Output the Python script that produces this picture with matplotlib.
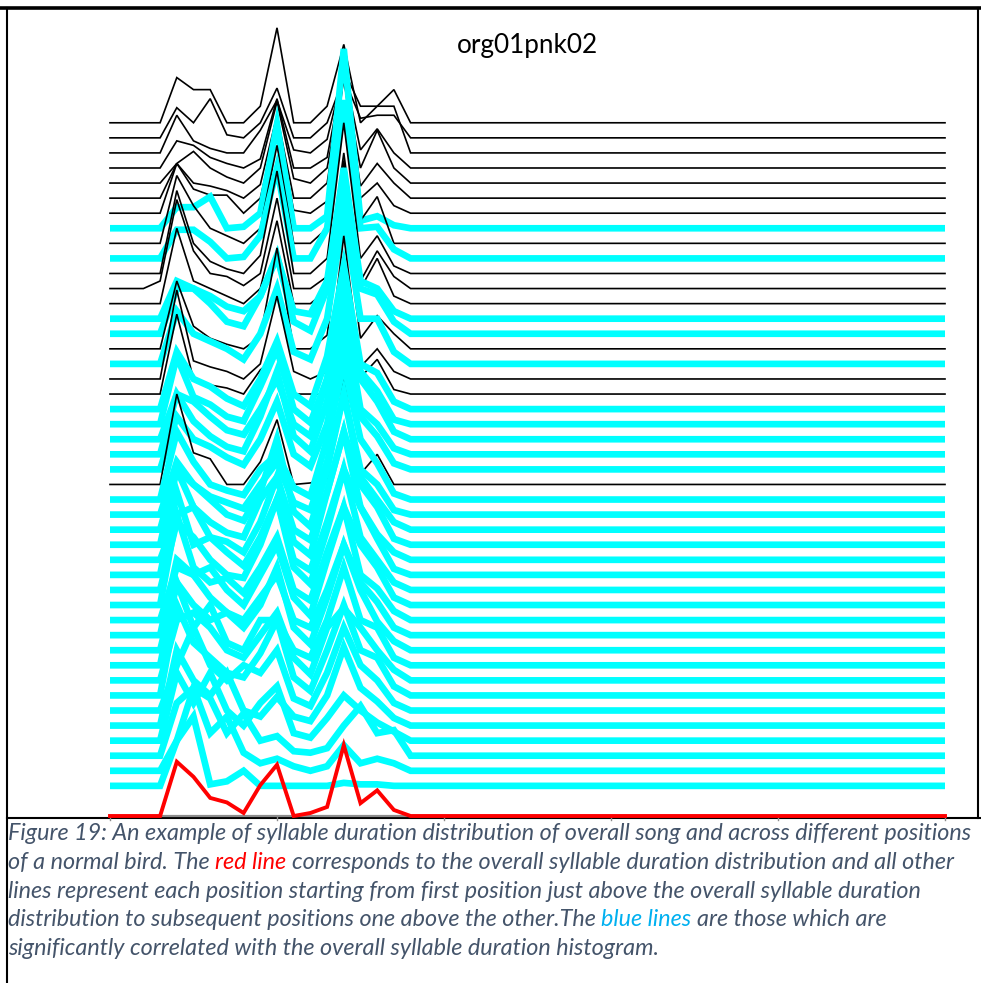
import numpy as np
import matplotlib
matplotlib.use("Agg")
import matplotlib.pyplot as plt

# =============================================================================
# data (histogram values, in units of the row spacing)
# =============================================================================

bin_first = 2          # first bin listed in the rows below
n_bins = 51            # bins 0..50 on the x axis

# overall syllable duration distribution (red), bins 2..18
overall_hist = [0, 0, 3.6, 2.6, 1.2, 0.9, 0.2, 2.05, 3.4, 0, 0.2, 0.6, 4.7, 0.85, 1.7, 0.4, 0]

# per-position distributions, position 1 (bottom) .. position 45 (top), bins 2..18
pos_hist = [
    [0, 0, 3.0, 4.6, 0.1, 0.3, 1.0, 0, 0, 0, 0, 0, 0.2, 0.1, 0.1, 0, 0],
    [0, 0, 2.0, 5.5, 2.5, 3.6, 1.2, 0.5, 0.8, 0.3, 0, 0.3, 1.7, 0.5, 0.8, 0.5, 0],
    [0, 0, 3.5, 4.5, 3.8, 1.5, 2.8, 1.0, 1.3, 0.3, 0.2, 0.5, 2.0, 3.3, 1.5, 1.7, 0],
    [0, 0, 4.5, 2.5, 4.5, 2.0, 1.0, 2.5, 3.6, 0.5, 0.2, 1.5, 3.0, 2.0, 1.2, 0.6, 0],
    [0, 0, 5.0, 3.0, 2.0, 3.5, 1.0, 0.6, 1.9, 0.6, 0.3, 2.0, 5.2, 2.5, 1.6, 0.5, 0],
    [0, 0, 3.0, 5.5, 3.0, 2.0, 3.0, 2.5, 4.0, 0.8, 0.3, 2.5, 5.5, 3.0, 2.0, 0.5, 0],
    [0, 0, 6.0, 3.5, 2.5, 1.5, 1.2, 2.8, 5.0, 1.2, 0.3, 3.0, 6.0, 3.0, 2.5, 0.6, 0],
    [0, 0, 4.0, 4.5, 3.5, 2.0, 1.5, 3.0, 4.5, 1.5, 0.4, 3.5, 4.8, 3.5, 2.0, 0.7, 0],
    [0, 0, 5.5, 2.5, 4.0, 1.5, 1.0, 3.0, 3.0, 1.0, 0.5, 3.0, 6.5, 3.0, 2.5, 0.5, 0],
    [0, 0, 4.5, 3.0, 2.0, 2.5, 1.5, 3.0, 5.5, 1.5, 0.4, 3.5, 7.0, 4.0, 1.9, 0.6, 0],
    [0, 0, 5.0, 4.0, 2.5, 1.5, 1.0, 2.5, 4.0, 1.0, 0.5, 3.0, 6.0, 3.5, 2.2, 0.5, 0],
    [0, 0, 3.5, 3.0, 3.5, 2.0, 1.0, 3.0, 5.0, 1.5, 0.3, 4.0, 7.5, 3.0, 2.1, 0.6, 0],
    [0, 0, 6.0, 2.5, 1.5, 1.8, 0.8, 2.5, 4.5, 1.0, 0.3, 3.5, 6.5, 4.0, 2.5, 0.5, 0],
    [0, 0, 4.5, 3.5, 2.0, 1.0, 0.8, 3.0, 6.0, 1.5, 0.4, 4.0, 8.0, 3.5, 2.0, 0.5, 0],
    [0, 0, 5.5, 2.0, 2.5, 1.5, 0.6, 2.5, 5.0, 1.0, 0.3, 3.5, 7.0, 4.5, 2.4, 0.4, 0],
    [0, 0, 3.0, 3.5, 1.5, 1.2, 0.5, 2.5, 5.5, 1.2, 0.3, 4.5, 8.5, 3.5, 1.7, 0.5, 0],
    [0, 0, 5.0, 2.5, 1.5, 0.8, 0.5, 3.0, 4.5, 1.0, 0.3, 3.5, 7.5, 4.0, 2.5, 0.4, 0],
    [0, 0, 4.0, 3.0, 2.0, 1.0, 0.6, 2.5, 6.0, 1.2, 0.2, 4.0, 9.0, 3.5, 2.0, 0.5, 0],
    [0, 0, 3.5, 2.0, 1.2, 0.8, 0.4, 2.0, 3.5, 0.8, 0.3, 3.5, 8.0, 3.0, 2.0, 0.3, 0],
    [0, 0, 4.5, 2.5, 1.0, 0.6, 0.3, 2.0, 3.0, 0.8, 0.2, 4.0, 9.0, 4.0, 2.4, 0.4, 0],
    [0, 0, 6.0, 2.1, 1.7, 0, 0, 1.5, 4.3, 0, 0.1, 0.4, 7.0, 0.7, 2.0, 0, 0],
    [0, 0, 3.5, 2.0, 1.5, 0.8, 0.3, 2.0, 4.5, 1.0, 0.2, 3.0, 8.5, 3.5, 2.2, 0.4, 0],
    [0, 0, 4.0, 2.2, 1.2, 0.5, 0.2, 2.5, 5.5, 1.2, 0.2, 3.5, 9.5, 3.0, 2.0, 0.4, 0],
    [0, 0, 3.0, 2.5, 1.5, 0.6, 0.3, 2.0, 4.0, 1.0, 0.2, 4.0, 9.0, 4.0, 2.5, 0.5, 0],
    [0, 0, 4.5, 1.8, 1.3, 0.5, 0.2, 2.5, 5.0, 1.0, 0.1, 3.0, 10.0, 3.5, 2.2, 0.3, 0],
    [0, 0, 3.8, 2.0, 1.5, 0.7, 0.2, 2.0, 4.5, 1.0, 0.2, 3.5, 9.5, 3.0, 2.4, 0.5, 0],
    [0, 0, 5.3, 1.0, 0.6, 0.4, 0, 1.6, 2.5, 0, 0, 0, 9.0, 1.1, 2.3, 0.3, 0],
    [0, 0, 5.9, 1.2, 0.8, 0.5, 0, 1.0, 5.5, 0.5, 0, 0.5, 9.5, 0.8, 2.0, 0.5, 0],
    [0, 0, 3.5, 2.0, 1.5, 1.0, 0.3, 2.0, 5.0, 0.8, 0.3, 3.0, 10.0, 3.0, 3.0, 0.8, 0],
    [0, 0, 4.5, 1.5, 0.7, 0.3, 0, 0.8, 6.7, 0, 0, 0.9, 9.0, 0.7, 2.2, 1.0, 0],
    [0, 0, 3.0, 3.0, 2.0, 0.8, 0.5, 2.5, 5.2, 0.8, 0.2, 3.0, 9.5, 3.0, 2.6, 0.8, 0],
    [0, 0, 2.5, 2.0, 1.5, 0.8, 0.5, 1.5, 4.1, 0.5, 0.3, 2.5, 10.0, 2.5, 2.0, 0.5, 0],
    [0, 0, 5.0, 1.5, 1.0, 0.5, 0, 1.0, 5.5, 0, 0, 0.9, 9.5, 1.0, 3.0, 0.5, 0],
    [0, 0.5, 5.9, 2.5, 1.0, 0.8, 0.2, 1.0, 6.0, 0, 0, 0.8, 9.0, 0.5, 2.5, 0.8, 0],
    [0, 0, 5.5, 2.0, 0.8, 0.3, 0, 1.2, 6.8, 0, 0, 1.0, 10.0, 1.0, 2.5, 0.5, 0],
    [0, 0, 1.9, 1.9, 1.1, 0, 0.1, 1.5, 6.0, 0, 0, 2.0, 10.5, 2.0, 2.1, 0.6, 0],
    [0, 0, 4.5, 2.5, 1.0, 0.5, 0, 1.0, 6.5, 0, 0, 1.0, 9.5, 1.5, 3.1, 0, 0],
    [0, 0, 1.4, 1.4, 2.1, 0, 0.1, 1.0, 6.9, 0, 0, 0.8, 11.9, 0.5, 0.8, 0.2, 0],
    [0, 0, 3.3, 1.6, 1.2, 1.2, 0, 1.0, 5.8, 0.2, 0, 0.8, 9.0, 1.0, 2.0, 0.5, 0],
    [0, 0, 2.3, 1.0, 0.8, 0.5, 0, 0.9, 5.5, 0, 0, 1.0, 8.0, 0.8, 2.3, 1.0, 0],
    [0, 0, 1.3, 2.1, 1.0, 0.4, 0, 1.0, 5.4, 0.3, 0, 1.0, 7.0, 1.0, 3.5, 1.0, 0],
    [0, 0, 1.8, 1.5, 0.7, 0.3, 0, 0.6, 4.6, 0, 0, 0.7, 6.5, 1.2, 2.6, 1.0, 0],
    [0, 0, 2.5, 0.8, 0.3, 0, 0, 1.5, 3.5, 0.2, 0, 0.9, 5.5, 3.1, 3.1, 3.1, 0],
    [0, 0, 2.0, 1.0, 2.6, 0.2, 0, 1.0, 3.3, 0, 0, 1.0, 4.0, 1.3, 1.5, 1.5, 0],
    [0, 0, 3.0, 2.2, 2.2, 0, 0, 1.1, 6.3, 0, 0, 1.1, 5.2, 0, 1.1, 2.2, 0],
]

# positions significantly correlated with the overall histogram (blue lines)
pos_significant = [
    True, True, True, True, True, True, True, True, True, True,      # 1-10
    True, True, True, True, True, True, True, True, True, True,      # 11-20
    False, True, True, True, True, True, False, False, True, False,  # 21-30
    True, True, False, False, False, True, False, True, False, False,  # 31-40
    False, False, False, False, False,                               # 41-45
]

x_ticks = [0, 10, 20, 30, 40, 50]
title = "org01pnk02"

caption_lines = [
    [("Figure 19: An example of syllable duration distribution of overall song and across different positions", "cap")],
    [("of a normal bird. The", "cap"), ("red line", "red"),
     ("corresponds to the overall syllable duration distribution and all other", "cap")],
    [("lines represent each position starting from first position just above the overall syllable duration", "cap")],
    [("distribution to subsequent positions one above the other.The", "cap"), ("blue lines", "blue"),
     ("are those which are", "cap")],
    [("significantly correlated with the overall syllable duration histogram.", "cap")],
]
caption_colors = {"cap": "#44546A", "red": "#FF0000", "blue": "#00B0F0"}

# =============================================================================
# plot
# =============================================================================

W, H = 981, 983
fig = plt.figure(figsize=(W / 100, H / 100), dpi=100)

# overlay in pixel coordinates for frame + caption
ov = fig.add_axes([0, 0, 1, 1])
ov.set_xlim(0, W)
ov.set_ylim(H, 0)
ov.axis("off")


def px_box(x0, y0, x1, y1):
    return [x0 / W, 1 - y1 / H, (x1 - x0) / W, (y1 - y0) / H]


# chart area (pixel geometry of the original Excel chart)
bin_px, row_px = 16.7, 15.07
ax = fig.add_axes(px_box(7, 8, 978, 818))
ax.set_xlim(-(110 - 7) / bin_px, 50 + (978 - 945) / bin_px)
ax.set_ylim(-(818 - 816) / row_px, (816 - 8) / row_px)
ax.axis("off")
ax.patch.set_visible(False)

bins = np.arange(n_bins)


def full_row(vals):
    row = np.zeros(n_bins)
    row[bin_first:bin_first + len(vals)] = vals
    return row


# x axis line + ticks
ax.plot([0, 50], [0, 0], color="#8c8c8c", lw=1.6, zorder=1, solid_capstyle="butt")
for t in x_ticks:
    ax.plot([t, t], [0, -0.25], color="#8c8c8c", lw=1.0, zorder=1, clip_on=False)

# positions: top rows drawn first, lower rows over them
n_pos = len(pos_hist)
for i in range(n_pos, 0, -1):
    vals = full_row(pos_hist[i - 1]) + (i + 1)
    if pos_significant[i - 1]:
        ax.plot(bins, vals, color="#00FFFF", lw=4.8, zorder=10 + (n_pos - i),
                solid_joinstyle="miter", solid_capstyle="butt")
    else:
        ax.plot(bins, vals, color="black", lw=1.2, zorder=10 + (n_pos - i),
                solid_joinstyle="miter")

# overall distribution
ax.plot(bins, full_row(overall_hist), color="#FF0000", lw=2.8, zorder=200,
        solid_joinstyle="miter")

ax.text(527, 45, title, transform=ov.transData, ha="center", va="center",
        fontsize=18.8, family="Lato")

# frame lines
ov.plot([0, W], [8, 8], color="black", lw=2.6)
ov.plot([7, 7], [8, H], color="black", lw=1.5)
ov.plot([978, 978], [8, 818], color="black", lw=1.5)
ov.plot([7, W], [818, 818], color="black", lw=1.5)

# caption, with coloured pieces
renderer = fig.canvas.get_renderer()
cap_kw = dict(fontsize=16.8, style="italic", family="Lato", va="baseline")


def text_width(s):
    t = ov.text(0, 0, s, **cap_kw)
    w = t.get_window_extent(renderer).width
    t.remove()
    return w


space_w = text_width("a a") - text_width("aa")
y_base = 840
for line in caption_lines:
    x = 8
    for k, (s, c) in enumerate(line):
        if k > 0:
            x += space_w
        t = ov.text(x, y_base, s, color=caption_colors[c], **cap_kw)
        x += t.get_window_extent(renderer).width
    y_base += 28.8

fig.savefig("out.png", dpi=100)
